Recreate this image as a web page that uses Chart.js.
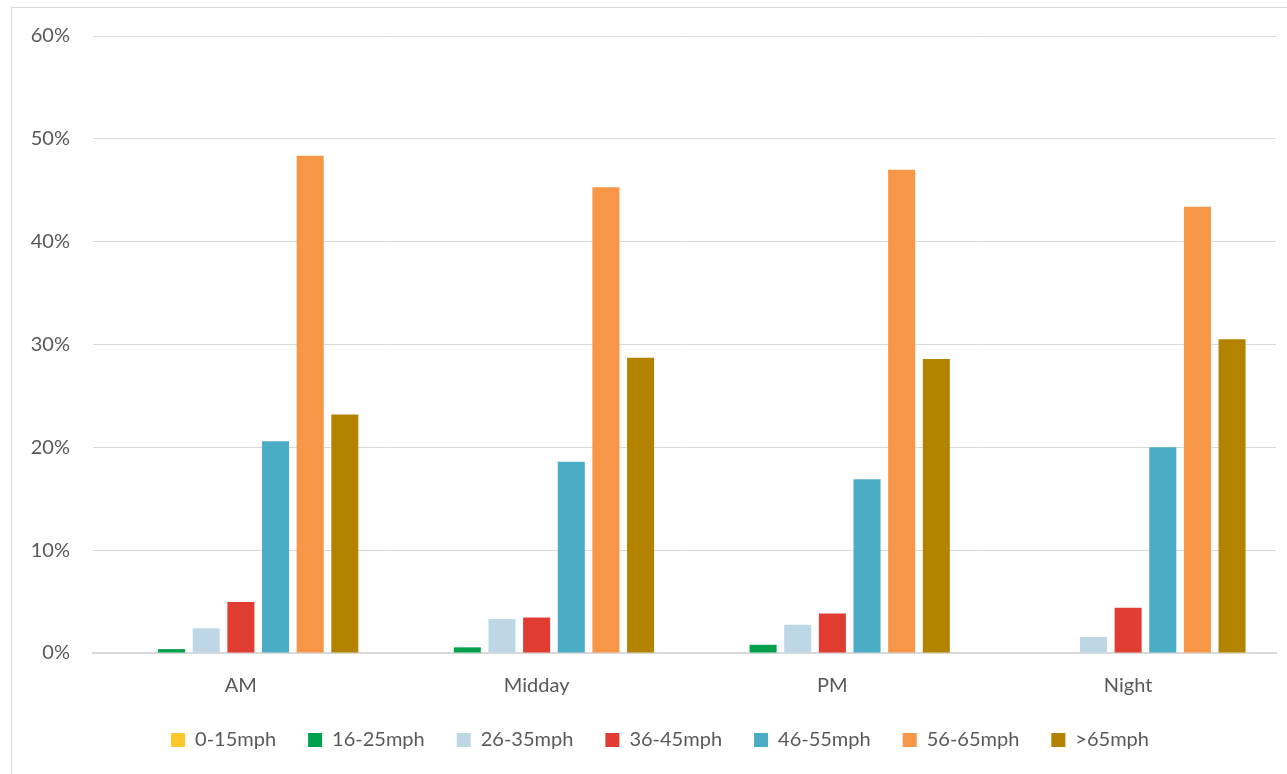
<!DOCTYPE html>
<html>
<head>
<meta charset="utf-8">
<script src="https://cdn.jsdelivr.net/npm/chart.js@4/dist/chart.umd.min.js"></script>
<style>
  html, body { margin: 0; padding: 0; background: #fff; overflow: hidden; }
  #frame {
    position: absolute; left: 11px; top: 7px;
    width: 1400px; height: 900px;
    border: 1.5px solid #d9d9d9; box-sizing: border-box;
  }
  #wrap { position: absolute; left: 0; top: 0; width: 1287px; height: 774px; }
</style>
</head>
<body>
<div id="frame"></div>
<div id="wrap"><canvas id="speedChart"></canvas></div>
<script>
  const periods = ['AM', 'Midday', 'PM', 'Night'];
  const speedBands = ['0-15mph', '16-25mph', '26-35mph', '36-45mph', '46-55mph', '56-65mph', '>65mph'];
  const band0to15 = [0, 0, 0, 0];
  const band16to25 = [0.38, 0.55, 0.8, 0];
  const band26to35 = [2.4, 3.3, 2.75, 1.55];
  const band36to45 = [4.95, 3.45, 3.85, 4.4];
  const band46to55 = [20.6, 18.6, 16.9, 20.0];
  const band56to65 = [48.35, 45.3, 47.0, 43.4];
  const bandOver65 = [23.2, 28.7, 28.6, 30.5];
  const yTicks = [0, 10, 20, 30, 40, 50, 60];

  const bandValues = [band0to15, band16to25, band26to35, band36to45, band46to55, band56to65, bandOver65];
  const bandColors = ['#ffc62a', '#00a04c', '#bdd7e7', '#e03c31', '#4bacc6', '#f79646', '#b38300'];

  const FONT = 'Lato, "Open Sans", sans-serif';
  const TEXT = '#595959';

  // nudge the legend row so it sits centred under the plot rather than the whole canvas
  const legendShift = {
    id: 'legendShift',
    afterLayout(chart) {
      const lg = chart.legend;
      if (!lg) return;
      lg.left += 22;
      lg.right += 22;
    },
  };

  new Chart(document.getElementById('speedChart'), {
    type: 'bar',
    data: {
      labels: periods,
      datasets: speedBands.map((band, i) => ({
        label: band,
        data: bandValues[i],
        backgroundColor: bandColors[i],
        borderWidth: 0,
        categoryPercentage: 0.82,
        barPercentage: 0.78,
      })),
    },
    plugins: [legendShift],
    options: {
      responsive: true,
      maintainAspectRatio: false,
      animation: false,
      layout: { padding: { top: 36, right: 11, bottom: 14, left: 0 } },
      plugins: {
        tooltip: { enabled: false },
        legend: {
          position: 'bottom',
          labels: {
            boxWidth: 14,
            boxHeight: 14,
            padding: 32,
            color: TEXT,
            font: { family: FONT, size: 20 },
          },
        },
      },
      scales: {
        x: {
          grid: { display: false, drawTicks: false },
          border: { color: '#d9d9d9', width: 2 },
          ticks: { color: TEXT, font: { family: FONT, size: 20 }, padding: 21 },
          afterFit(scale) { scale.height = 45; },
        },
        y: {
          min: 0,
          max: 60,
          afterBuildTicks(scale) { scale.ticks = yTicks.map(v => ({ value: v })); },
          grid: { color: '#d9d9d9', lineWidth: 1, drawTicks: false },
          border: { display: false },
          ticks: {
            color: TEXT,
            font: { family: FONT, size: 20 },
            padding: 23,
            callback(value) { return value + '%'; },
          },
          afterFit(scale) { scale.width = 93; },
        },
      },
    },
  });
</script>
</body>
</html>
